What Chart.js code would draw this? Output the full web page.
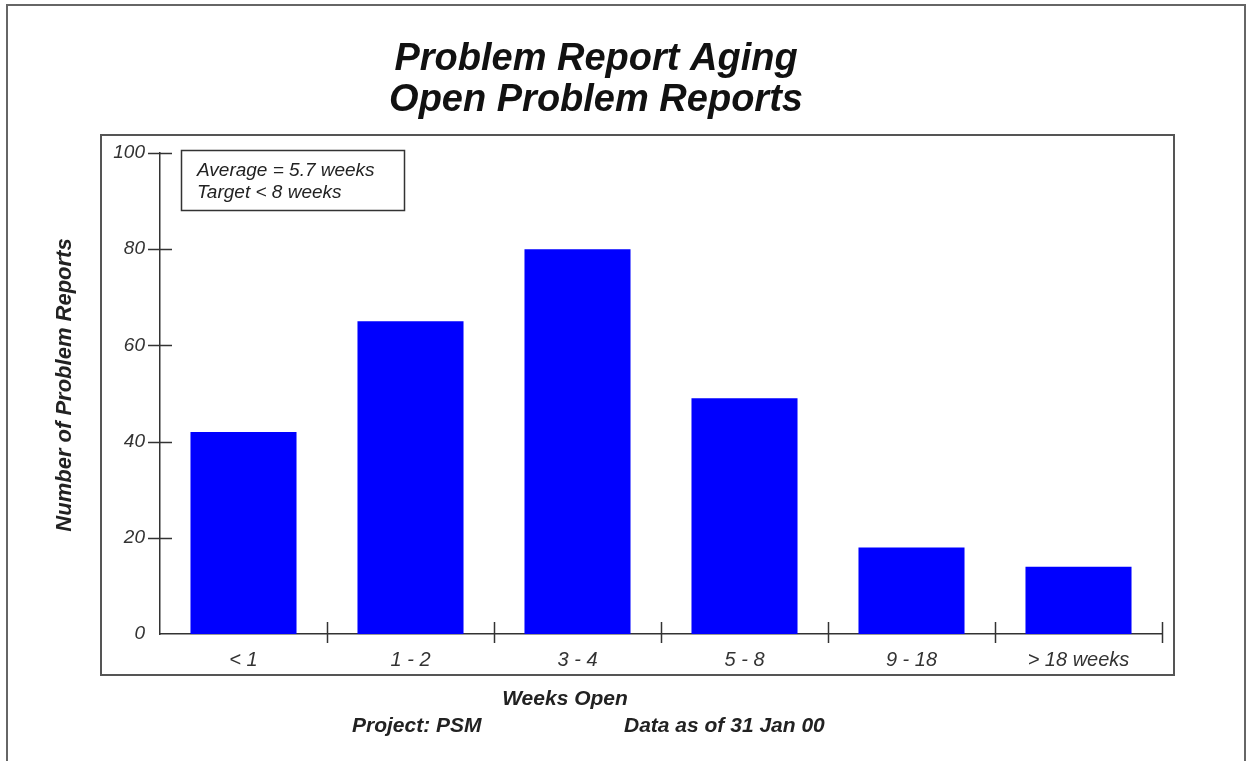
<!DOCTYPE html>
<html>
<head>
<meta charset="utf-8">
<script src="https://cdn.jsdelivr.net/npm/chart.js@4"></script>
<style>
  html, body { margin: 0; padding: 0; background: #fff; }
  #wrap { width: 1247px; height: 761px; position: relative; }
</style>
</head>
<body>
<div id="wrap"><canvas id="chart"></canvas></div>
<script>
// data
const weekBins = ['< 1', '1 - 2', '3 - 4', '5 - 8', '9 - 18', '> 18 weeks'];
const openReports = [42, 65, 80, 49, 18, 14];
const yTicks = [0, 20, 40, 60, 80, 100];
const titleLines = ['Problem Report Aging', 'Open Problem Reports'];
const noteLines = ['Average = 5.7 weeks', 'Target < 8 weeks'];

const FONT = '"Liberation Sans", Arial, Helvetica, sans-serif';
const INK = '#222';
const AXIS = '#333';

// frames, titles, note box and crossing tick marks
const decorations = {
  id: 'decorations',
  beforeDraw(chart) {
    const ctx = chart.ctx;
    ctx.save();
    ctx.fillStyle = '#fff';
    ctx.fillRect(0, 0, chart.width, chart.height);
    ctx.strokeStyle = '#666';
    ctx.lineWidth = 2;
    ctx.strokeRect(7, 5, 1238, 770);
    ctx.strokeStyle = '#555';
    ctx.strokeRect(101, 135, 1073, 540);
    ctx.restore();
  },
  afterDraw(chart) {
    const ctx = chart.ctx;
    const x = chart.scales.x, y = chart.scales.y;
    ctx.save();
    ctx.strokeStyle = AXIS;
    ctx.lineWidth = 1.5;

    // y ticks cross the axis
    yTicks.forEach(v => {
      const py = Math.round(y.getPixelForValue(v)) + 0.5;
      if (v === 0) return;
      ctx.beginPath();
      ctx.moveTo(x.left - 12, py);
      ctx.lineTo(x.left + 12, py);
      ctx.stroke();
    });
    // x ticks between categories
    const step = x.getPixelForValue(1) - x.getPixelForValue(0);
    weekBins.forEach((c, i) => {
      const px = Math.round(x.getPixelForValue(i) + step / 2) + 0.5;
      ctx.beginPath();
      ctx.moveTo(px, y.bottom - 12);
      ctx.lineTo(px, y.bottom + 9);
      ctx.stroke();
    });

    // title
    ctx.fillStyle = '#111';
    ctx.textAlign = 'center';
    ctx.textBaseline = 'alphabetic';
    ctx.font = 'italic bold 38px ' + FONT;
    ctx.fillText(titleLines[0], 596, 70);
    ctx.fillText(titleLines[1], 596, 111);

    // note box
    ctx.strokeStyle = AXIS;
    ctx.lineWidth = 1.5;
    ctx.strokeRect(181.5, 150.5, 223, 60);
    ctx.fillStyle = INK;
    ctx.textAlign = 'left';
    ctx.font = 'italic 19px ' + FONT;
    ctx.fillText(noteLines[0], 197, 176);
    ctx.fillText(noteLines[1], 197, 198);

    // y axis title
    ctx.font = 'italic bold 22px ' + FONT;
    ctx.save();
    ctx.translate(71, 385);
    ctx.rotate(-Math.PI / 2);
    ctx.textAlign = 'center';
    ctx.fillText('Number of Problem Reports', 0, 0);
    ctx.restore();

    // footer
    ctx.font = 'italic bold 21px ' + FONT;
    ctx.textAlign = 'center';
    ctx.fillText('Weeks Open', 565, 705);
    ctx.textAlign = 'left';
    ctx.fillText('Project: PSM', 352, 732);
    ctx.fillText('Data as of 31 Jan 00', 624, 732);
    ctx.restore();
  }
};

new Chart(document.getElementById('chart'), {
  type: 'bar',
  data: {
    labels: weekBins,
    datasets: [{
      data: openReports,
      backgroundColor: '#0000ff',
      borderWidth: 0,
      categoryPercentage: 1,
      barPercentage: 0.635
    }]
  },
  options: {
    responsive: true,
    maintainAspectRatio: false,
    animation: false,
    layout: { padding: { left: 100, right: 85, top: 153, bottom: 87 } },
    plugins: {
      legend: { display: false },
      title: { display: false },
      tooltip: { enabled: false }
    },
    scales: {
      x: {
        offset: true,
        grid: { display: false, drawTicks: false },
        border: { display: true, color: AXIS, width: 1.5 },
        ticks: {
          color: '#333',
          padding: 14,
          maxRotation: 0,
          font: { family: FONT, size: 20, style: 'italic' }
        },
        afterFit: s => { s.height = 40; }
      },
      y: {
        min: 0,
        max: 100,
        grid: { display: false, drawTicks: false },
        border: { display: true, color: AXIS, width: 1.5 },
        ticks: {
          stepSize: 20,
          color: '#333',
          padding: 15,
          font: { family: FONT, size: 19, style: 'italic' }
        },
        afterFit: s => { s.width = 60; }
      }
    }
  },
  plugins: [decorations]
});
</script>
</body>
</html>
